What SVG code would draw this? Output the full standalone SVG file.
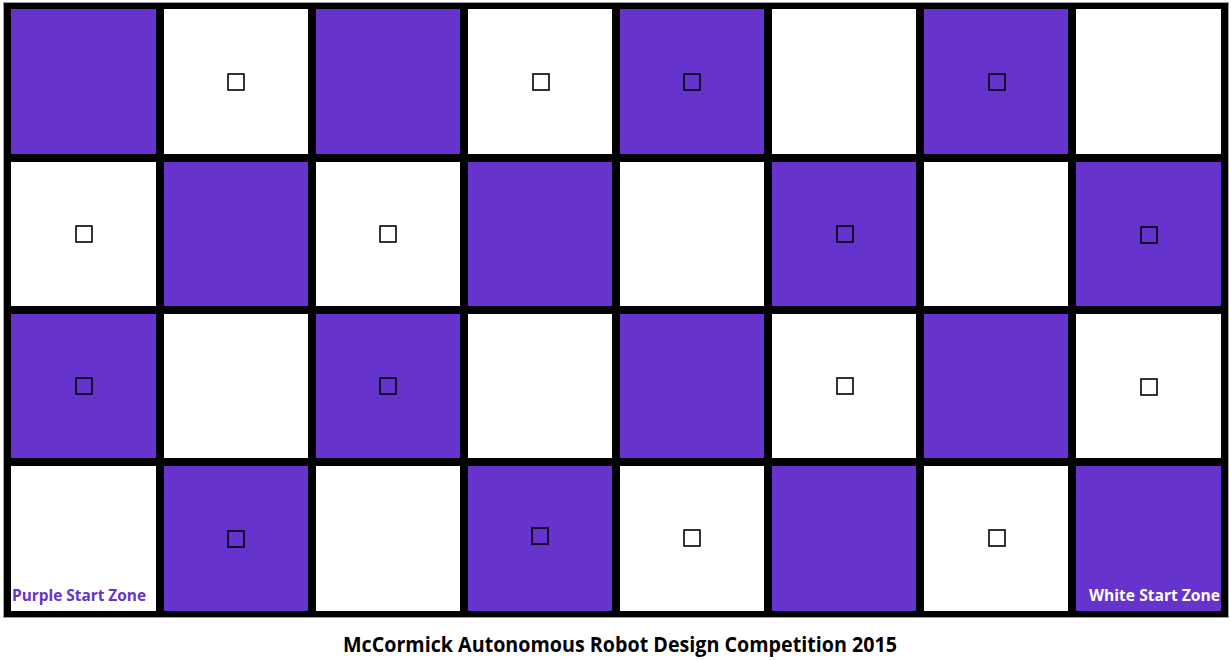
<svg xmlns="http://www.w3.org/2000/svg" width="1231" height="661" viewBox="0 0 1231 661">
<style>
.p{fill:#6633CC}
.w{fill:#ffffff}
.m{fill:none;stroke:#000;stroke-width:1.6}
.lbl{font-family:"Open Sans","Noto Sans","Liberation Sans",sans-serif;font-weight:bold;font-size:16px}
.title{font-family:"Open Sans","Noto Sans","Liberation Sans",sans-serif;font-weight:bold;font-size:20.5px;fill:#000}
</style>
<rect x="0" y="0" width="1231" height="661" fill="#ffffff"/>
<g id="board">
<rect x="3.5" y="2.5" width="1225" height="615" fill="none" stroke="#a0a0a0" stroke-width="1"/>
<rect x="4" y="3" width="1224" height="614" fill="#000"/>
</g>
<g id="row1">
<g id="c1-1"><rect class="p" x="11" y="9" width="145" height="145"/></g>
<g id="c1-2"><rect class="w" x="164" y="9" width="144" height="145"/><rect class="m" x="228" y="74" width="16" height="16"/></g>
<g id="c1-3"><rect class="p" x="316" y="9" width="144" height="145"/></g>
<g id="c1-4"><rect class="w" x="468" y="9" width="144" height="145"/><rect class="m" x="533" y="74" width="16" height="16"/></g>
<g id="c1-5"><rect class="p" x="620" y="9" width="144" height="145"/><rect class="m" x="684" y="74" width="16" height="16"/></g>
<g id="c1-6"><rect class="w" x="772" y="9" width="144" height="145"/></g>
<g id="c1-7"><rect class="p" x="924" y="9" width="144" height="145"/><rect class="m" x="989" y="74" width="16" height="16"/></g>
<g id="c1-8"><rect class="w" x="1076" y="9" width="145" height="145"/></g>
</g>
<g id="row2">
<g id="c2-1"><rect class="w" x="11" y="162" width="145" height="144"/><rect class="m" x="76" y="226" width="16" height="16"/></g>
<g id="c2-2"><rect class="p" x="164" y="162" width="144" height="144"/></g>
<g id="c2-3"><rect class="w" x="316" y="162" width="144" height="144"/><rect class="m" x="380" y="226" width="16" height="16"/></g>
<g id="c2-4"><rect class="p" x="468" y="162" width="144" height="144"/></g>
<g id="c2-5"><rect class="w" x="620" y="162" width="144" height="144"/></g>
<g id="c2-6"><rect class="p" x="772" y="162" width="144" height="144"/><rect class="m" x="837" y="226" width="16" height="16"/></g>
<g id="c2-7"><rect class="w" x="924" y="162" width="144" height="144"/></g>
<g id="c2-8"><rect class="p" x="1076" y="162" width="145" height="144"/><rect class="m" x="1141" y="227" width="16" height="16"/></g>
</g>
<g id="row3">
<g id="c3-1"><rect class="p" x="11" y="314" width="145" height="144"/><rect class="m" x="76" y="378" width="16" height="16"/></g>
<g id="c3-2"><rect class="w" x="164" y="314" width="144" height="144"/></g>
<g id="c3-3"><rect class="p" x="316" y="314" width="144" height="144"/><rect class="m" x="380" y="378" width="16" height="16"/></g>
<g id="c3-4"><rect class="w" x="468" y="314" width="144" height="144"/></g>
<g id="c3-5"><rect class="p" x="620" y="314" width="144" height="144"/></g>
<g id="c3-6"><rect class="w" x="772" y="314" width="144" height="144"/><rect class="m" x="837" y="378" width="16" height="16"/></g>
<g id="c3-7"><rect class="p" x="924" y="314" width="144" height="144"/></g>
<g id="c3-8"><rect class="w" x="1076" y="314" width="145" height="144"/><rect class="m" x="1141" y="379" width="16" height="16"/></g>
</g>
<g id="row4">
<g id="c4-1"><rect class="w" x="11" y="466" width="145" height="145"/><text class="lbl" x="12" y="601" fill="#6633CC" textLength="134" lengthAdjust="spacingAndGlyphs">Purple Start Zone</text></g>
<g id="c4-2"><rect class="p" x="164" y="466" width="144" height="145"/><rect class="m" x="228" y="531" width="16" height="16"/></g>
<g id="c4-3"><rect class="w" x="316" y="466" width="144" height="145"/></g>
<g id="c4-4"><rect class="p" x="468" y="466" width="144" height="145"/><rect class="m" x="532" y="528" width="16" height="16"/></g>
<g id="c4-5"><rect class="w" x="620" y="466" width="144" height="145"/><rect class="m" x="684" y="530" width="16" height="16"/></g>
<g id="c4-6"><rect class="p" x="772" y="466" width="144" height="145"/></g>
<g id="c4-7"><rect class="w" x="924" y="466" width="144" height="145"/><rect class="m" x="989" y="530" width="16" height="16"/></g>
<g id="c4-8"><rect class="p" x="1076" y="466" width="145" height="145"/><text class="lbl" x="1089" y="601" fill="#ffffff" textLength="131" lengthAdjust="spacingAndGlyphs">White Start Zone</text></g>
</g>
<g id="connectors"/>
<text id="title" class="title" x="343" y="652" textLength="554" lengthAdjust="spacingAndGlyphs">McCormick Autonomous Robot Design Competition 2015</text>
</svg>
